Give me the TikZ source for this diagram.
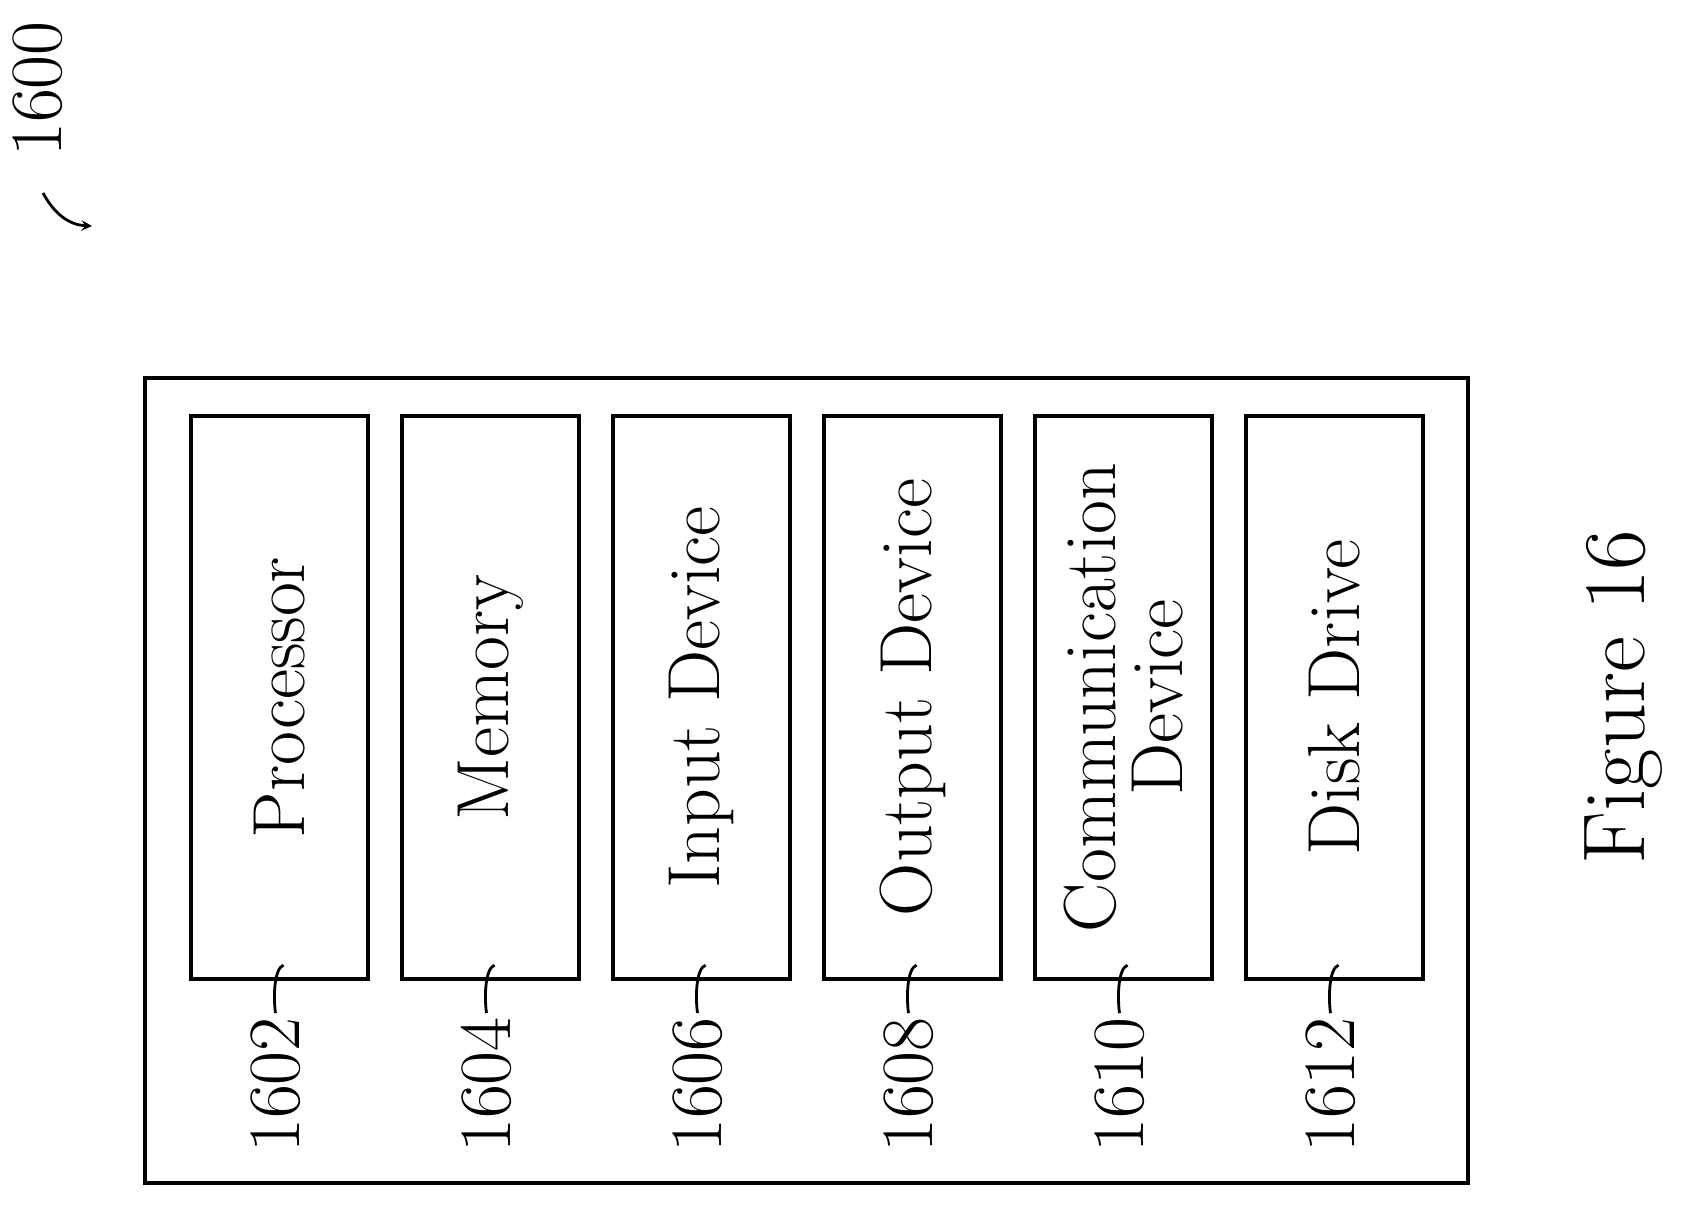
\documentclass[tikz,border=0pt]{standalone}
\usepackage{tikz}
\usetikzlibrary{calc,positioning}
\tikzset{unitbox/.style={draw,line width=2.4pt,minimum width=3.54cm,minimum height=11.26cm,inner sep=0pt},
reflabel/.style={rotate=90,font=\fontsize{42}{46}\selectfont}}

\begin{document}
\begin{tikzpicture}[x=0.02cm,y=-0.02cm]

\useasboundingbox (0,0) rectangle (1681,1207);

% Outer box
\draw[line width=2.6pt] (145,378) rectangle (1468,1183);

% Units
\foreach \name/\txt/\num [count=\i from 0] in {proc/Processor/1602,mem/Memory/1604,inp/Input Device/1606,outp/Output Device/1608,comm/{\shortstack[c]{Communication\\[6pt]Device}}/1610,disk/Disk Drive/1612}{
  \node[unitbox] (\name) at (279.5+211*\i,697.5) {};
  \node[rotate=90,font=\fontsize{42}{48}\selectfont,align=center] (\name text) at (\name) {\txt};
  \node[reflabel] (\name ref) at ($(\name.south)+(-4,104)$) {\num};
  \draw[line width=1.6pt] ($(\name ref.east)+(0,2)$) .. controls +(-2,-14) and +(-10,4) .. ($(\name.south)+(4,-16)$);
}

% Figure label
\node[rotate=90,font=\fontsize{50}{56}\selectfont] (fig) at (1624,697) {Figure 16};

% Reference 1600
\node[reflabel] (ref1600) at (38,89) {1600};
\draw[line width=1.6pt,->,>=stealth] (43,193) .. controls (55,215) and (70,225) .. (92,226);

\end{tikzpicture}
\end{document}
